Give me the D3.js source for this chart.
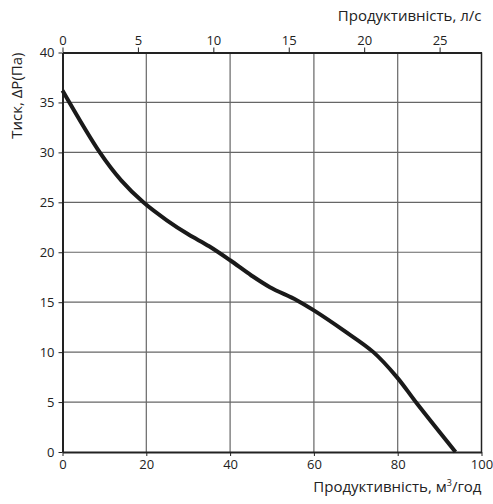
<!DOCTYPE html>
<html><head><meta charset="utf-8">
<script src="https://cdn.jsdelivr.net/npm/d3@7"></script>
<style>body{margin:0;background:#fff}text{font-family:"Open Sans",sans-serif;fill:#222}</style>
</head><body>
<svg id="c" width="493" height="504"></svg>
<script>
const flow = [0, 8.9, 14, 19.3, 24.9, 30, 35, 40, 45, 49.5, 55.9, 59.9, 67, 74.2, 79.8, 84.5, 93.8];
const pressure = [36.2, 30, 27.2, 25, 23.2, 21.8, 20.6, 19.2, 17.7, 16.5, 15.2, 14.2, 12.2, 10.0, 7.5, 4.9, 0];
const bottomTicks = [0, 20, 40, 60, 80, 100];
const topTicks = [0, 5, 10, 15, 20, 25];
const leftTicks = [0, 5, 10, 15, 20, 25, 30, 35, 40];

const svg = d3.select("#c");
const L = 62.5, R = 481.5, T = 52.5, B = 452;
const x = d3.scaleLinear().domain([0, 100]).range([L, R]);
const xl = d3.scaleLinear().domain([0, 100 / 3.6]).range([L, R]);
const y = d3.scaleLinear().domain([0, 40]).range([B, T]);

// grid
svg.append("g").selectAll("line").data(bottomTicks.slice(1, -1)).join("line")
  .attr("x1", d => x(d)).attr("x2", d => x(d)).attr("y1", T).attr("y2", B)
  .attr("stroke", "#666").attr("stroke-width", 1.2);
svg.append("g").selectAll("line").data(leftTicks.slice(1, -1)).join("line")
  .attr("y1", d => y(d)).attr("y2", d => y(d)).attr("x1", L).attr("x2", R)
  .attr("stroke", "#666").attr("stroke-width", 1.2);

// axes
const fs = "13px";
const gB = svg.append("g").attr("transform", `translate(0,${B})`)
  .call(d3.axisBottom(x).tickValues(bottomTicks).tickSize(4).tickPadding(4).tickSizeOuter(0));
const gT = svg.append("g").attr("transform", `translate(0,${T})`)
  .call(d3.axisTop(xl).tickValues(topTicks).tickSize(5).tickPadding(3).tickSizeOuter(0));
const gL = svg.append("g").attr("transform", `translate(${L},0)`)
  .call(d3.axisLeft(y).tickValues(leftTicks).tickSize(4).tickPadding(4).tickSizeOuter(0));
[gB, gT, gL].forEach(g => {
  g.selectAll("text").style("font-size", fs).style("font-family", '"Open Sans",sans-serif').attr("fill", "#222");
  g.selectAll("line").attr("stroke", "#222");
  g.select(".domain").attr("stroke", "#222").attr("stroke-width", 2);
});
// right border
svg.append("line").attr("x1", R).attr("x2", R).attr("y1", T).attr("y2", B)
  .attr("stroke", "#222").attr("stroke-width", 1.5);

// curve
const line = d3.line().x(d => x(d[0])).y(d => y(d[1])).curve(d3.curveCatmullRom.alpha(0.5));
svg.append("path").datum(flow.map((f, i) => [f, pressure[i]]))
  .attr("d", line).attr("fill", "none").attr("stroke", "#1a1a1a").attr("stroke-width", 4);

// titles
const bt = svg.append("text").attr("x", R).attr("y", 492).attr("text-anchor", "end").style("font-size", "15px");
bt.append("tspan").text("Продуктивність, м");
bt.append("tspan").text("3").attr("dy", -6).style("font-size", "9px");
bt.append("tspan").text("/год").attr("dy", 6);
svg.append("text").attr("x", R).attr("y", 21).attr("text-anchor", "end").style("font-size", "15px")
  .text("Продуктивність, л/с");
svg.append("text").attr("transform", `translate(22,${T}) rotate(-90)`).attr("text-anchor", "end")
  .style("font-size", "15px").text("Тиск, ΔP(Па)");
</script>
</body></html>
